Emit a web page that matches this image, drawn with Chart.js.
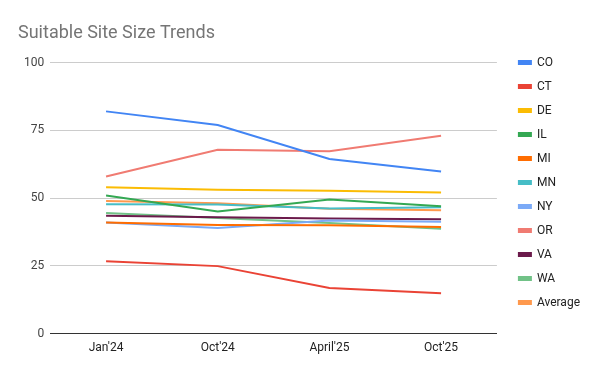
<!DOCTYPE html>
<html>
<head>
<meta charset="utf-8">
<script src="https://cdn.jsdelivr.net/npm/chart.js@4"></script>
<style>
  html, body { margin: 0; padding: 0; background: #fff; }
  #wrap { width: 600px; height: 371px; }
</style>
</head>
<body>
<div id="wrap"><canvas id="myChart"></canvas></div>
<script>
const labels = ["Jan'24", "Oct'24", "April'25", "Oct'25"];

const CO = [82, 77, 64.4, 59.8];
const CT = [26.7, 24.9, 16.8, 14.9];
const DE = [54, 53.1, 52.7, 52.1];
const IL = [51, 45.1, 49.5, 47];
const MI = [41, 40.1, 40, 39.3];
const MN = [47.7, 47.6, 46.2, 46.6];
const NY = [41, 39, 41.7, 41.3];
const OR = [58, 67.8, 67.3, 73];
const VA = [43.5, 42.9, 42.5, 42.2];
const WA = [44.5, 42.7, 40.8, 38.7];
const Average = [48.9, 48.1, 46.1, 45.5];

const yTicks = [0, 25, 50, 75, 100];

function line(label, data, color) {
    return {
        label: label,
        data: data,
        borderColor: color,
        backgroundColor: color,
        borderWidth: 2,
        pointRadius: 0,
        tension: 0,
        fill: false
    };
}

const ctx = document.getElementById('myChart').getContext('2d');

new Chart(ctx, {
    type: 'line',
    data: {
        labels: labels,
        datasets: [
            line('CO', CO, '#4285F4'),
            line('CT', CT, '#EA4335'),
            line('DE', DE, '#FBBC04'),
            line('IL', IL, '#34A853'),
            line('MI', MI, '#FF6D01'),
            line('MN', MN, '#46BDC6'),
            line('NY', NY, '#7BAAF7'),
            line('OR', OR, '#F07B72'),
            line('VA', VA, '#6B1A4B'),
            line('WA', WA, '#71C287'),
            line('Average', Average, '#FF994D')
        ]
    },
    options: {
        responsive: true,
        maintainAspectRatio: false,
        animation: false,
        layout: {
            padding: { left: 18, right: 10, top: 3, bottom: 9 }
        },
        plugins: {
            title: {
                display: true,
                text: 'Suitable Site Size Trends',
                align: 'start',
                color: '#757575',
                font: { family: 'Roboto', size: 18, weight: 'normal' },
                padding: { top: 20, bottom: 18 }
            },
            legend: {
                position: 'right',
                align: 'center',
                labels: {
                    boxWidth: 12,
                    boxHeight: 3,
                    padding: 12,
                    color: '#222',
                    font: { family: 'Roboto', size: 12 }
                }
            },
            tooltip: { enabled: false }
        },
        scales: {
            x: {
                offset: true,
                grid: { display: false, drawTicks: false },
                border: { color: '#333' },
                ticks: {
                    color: '#222',
                    padding: 7,
                    maxRotation: 0,
                    font: { family: 'Roboto', size: 12 }
                }
            },
            y: {
                min: 0,
                max: 100,
                afterBuildTicks: function (axis) {
                    axis.ticks = yTicks.map(function (v) { return { value: v }; });
                },
                grid: { color: '#cccccc', drawTicks: false },
                border: { display: false },
                ticks: {
                    color: '#444',
                    padding: 6,
                    font: { family: 'Roboto', size: 12 }
                }
            },
            gap: {
                position: 'right',
                display: true,
                grid: { display: false },
                border: { display: false },
                ticks: { display: false },
                afterFit: function (axis) { axis.width = 10; }
            }
        }
    }
});
</script>
</body>
</html>
